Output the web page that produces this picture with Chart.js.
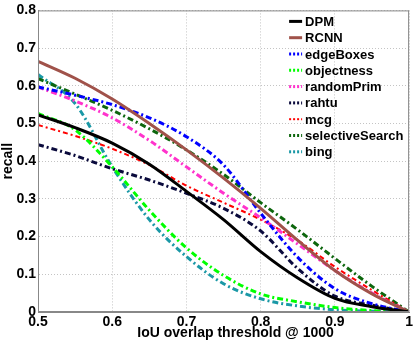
<!DOCTYPE html>
<html>
<head>
<meta charset="utf-8">
<script src="https://cdn.jsdelivr.net/npm/chart.js@4/dist/chart.umd.min.js"></script>
<style>
  html, body { margin: 0; padding: 0; background: #fff; }
  canvas { display: block; }
</style>
</head>
<body>
<canvas id="myChart" width="415" height="342"></canvas>
<script>
// IoU thresholds (x axis)
const thresholds = [0.5, 0.55, 0.6, 0.65, 0.7, 0.75, 0.8, 0.85, 0.9, 0.95, 1.0];

// recall values, one array per method
const dpm = [0.523, 0.489, 0.448, 0.392, 0.32, 0.245, 0.16, 0.09, 0.036, 0.014, 0];
const rcnn = [0.665, 0.62, 0.565, 0.5, 0.43, 0.355, 0.275, 0.19, 0.11, 0.048, 0];
const edgeBoxes = [0.597, 0.575, 0.55, 0.515, 0.465, 0.39, 0.262, 0.145, 0.062, 0.022, 0];
const objectness = [0.527, 0.483, 0.385, 0.27, 0.17, 0.097, 0.048, 0.027, 0.012, 0.004, 0];
const randomPrim = [0.597, 0.56, 0.515, 0.455, 0.385, 0.315, 0.25, 0.18, 0.11, 0.05, 0];
const rahtu = [0.444, 0.415, 0.38, 0.35, 0.315, 0.275, 0.215, 0.115, 0.042, 0.018, 0];
const mcg = [0.496, 0.467, 0.433, 0.39, 0.335, 0.29, 0.245, 0.19, 0.12, 0.058, 0];
const selectiveSearch = [0.619, 0.578, 0.535, 0.486, 0.43, 0.365, 0.29, 0.218, 0.142, 0.068, 0];
const bing = [0.63, 0.553, 0.385, 0.245, 0.147, 0.075, 0.035, 0.016, 0.006, 0.002, 0];

const xTicks = [0.5, 0.6, 0.7, 0.8, 0.9, 1];
const yTicks = [0, 0.1, 0.2, 0.3, 0.4, 0.5, 0.6, 0.7, 0.8];

const FONT = '"Liberation Sans", Arial, sans-serif';
const dashDot = [6, 3, 2, 3];

function series(label, values, color, width, dash) {
    return {
        label: label,
        data: values.map((v, i) => ({ x: thresholds[i], y: v })),
        borderColor: color,
        borderWidth: width,
        borderDash: dash,
        pointRadius: 0,
        fill: false,
        cubicInterpolationMode: 'monotone'
    };
}

const datasets = [
    series('DPM', dpm, '#000000', 3, []),
    series('RCNN', rcnn, '#a0524a', 3, []),
    series('edgeBoxes', edgeBoxes, '#0000ff', 3, dashDot),
    series('objectness', objectness, '#00ff00', 3, dashDot),
    series('randomPrim', randomPrim, '#ff33cc', 3, dashDot),
    series('rahtu', rahtu, '#0a0a3c', 3, dashDot),
    series('mcg', mcg, '#ff0000', 2, [5, 3, 2, 3]),
    series('selectiveSearch', selectiveSearch, '#0d660d', 3, dashDot),
    series('bing', bing, '#1a98a6', 3, dashDot)
];

// box around the plot, x title, legend inside top right
const boxAndLegend = {
    id: 'boxAndLegend',
    afterDraw(chart) {
        const ctx = chart.ctx;
        const a = chart.chartArea;
        ctx.save();
        ctx.strokeStyle = '#888';
        ctx.lineWidth = 1;
        ctx.setLineDash([]);
        ctx.strokeRect(a.left + 0.5, a.top + 0.5, a.right - a.left - 1, a.bottom - a.top - 1);

        ctx.font = 'bold 14px ' + FONT;
        ctx.fillStyle = '#000';
        ctx.textAlign = 'center';
        ctx.textBaseline = 'middle';
        ctx.fillText('IoU overlap threshold @ 1000', (a.left + a.right) / 2 + 12, a.bottom + 21);

        ctx.font = 'bold 13px ' + FONT;
        ctx.textAlign = 'left';
        chart.data.datasets.forEach((ds, i) => {
            const y = a.top + 11 + i * 16.3;
            const x0 = a.right - 120;
            ctx.beginPath();
            ctx.strokeStyle = ds.borderColor;
            ctx.lineWidth = ds.borderWidth;
            ctx.setLineDash(ds.borderDash.length ? [2, 2] : []);
            ctx.moveTo(x0, y);
            ctx.lineTo(x0 + 13, y);
            ctx.stroke();
            ctx.fillStyle = '#000';
            ctx.fillText(ds.label, x0 + 16, y + 1);
        });
        ctx.restore();
    }
};

let ctx = document.getElementById('myChart').getContext('2d');
new Chart(ctx, {
    type: 'line',
    data: { datasets: datasets },
    plugins: [boxAndLegend],
    options: {
        responsive: false,
        animation: false,
        devicePixelRatio: 1,
        layout: { padding: { top: 8, right: 4, left: 0, bottom: 0 } },
        plugins: {
            legend: { display: false },
            tooltip: { enabled: false }
        },
        scales: {
            x: {
                type: 'linear',
                min: 0.5,
                max: 1,
                afterFit: s => { s.height = 30; },
                afterBuildTicks: s => { s.ticks = xTicks.map(v => ({ value: v })); },
                ticks: {
                    color: '#000',
                    padding: 2,
                    maxRotation: 0,
                    font: { family: FONT, size: 14, weight: 'bold' },
                    callback: v => String(+v.toFixed(1))
                },
                grid: { color: '#c4c4c4', drawTicks: false },
                border: { color: '#888', dash: [1, 2] }
            },
            y: {
                min: 0,
                max: 0.8,
                afterFit: s => { s.width = 38; },
                afterBuildTicks: s => { s.ticks = yTicks.map(v => ({ value: v })); },
                ticks: {
                    color: '#000',
                    padding: 2,
                    font: { family: FONT, size: 14, weight: 'bold' },
                    callback: v => String(+v.toFixed(1))
                },
                grid: { color: '#c4c4c4', drawTicks: false },
                border: { color: '#888', dash: [1, 2] },
                title: {
                    display: true,
                    text: 'recall',
                    color: '#000',
                    padding: { top: 0, bottom: 0 },
                    font: { family: FONT, size: 14, weight: 'bold' }
                }
            }
        }
    }
});
</script>
</body>
</html>
